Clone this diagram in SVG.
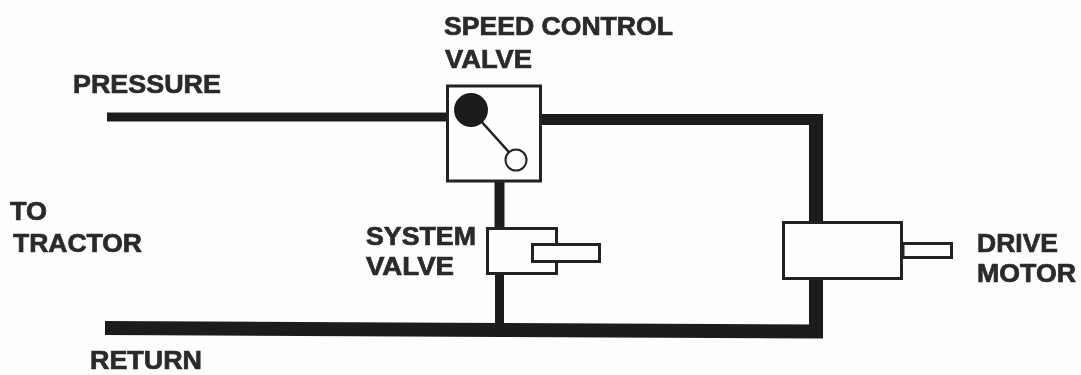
<svg xmlns="http://www.w3.org/2000/svg" width="1081" height="375" viewBox="0 0 1081 375">
<style>
.t{font-family:"Liberation Sans",Arial,sans-serif;font-weight:700;font-size:26px;fill:#2b2b2b;stroke:#2b2b2b;stroke-width:.7px}
.box{fill:#fefefd;stroke:#222;stroke-width:3}
.pipe{fill:none;stroke:#1e1e1e;stroke-linejoin:miter}
</style>
<defs><filter id="soft" x="-2%" y="-2%" width="104%" height="104%"><feGaussianBlur stdDeviation="0.7"/></filter></defs>
<rect width="1081" height="375" fill="#fdfdfc"/>
<g filter="url(#soft)">
<g id="connectors">
<path class="pipe" stroke-width="9" d="M107 117H448"/>
<path class="pipe" stroke-width="11" d="M540 119.500H823"/>
<path class="pipe" stroke-width="14" d="M816 114V225"/>
<path class="pipe" stroke-width="14" d="M105 328L500 330L816 331.500V278"/>
<path class="pipe" stroke-width="10" d="M499.500 180V230"/>
<path class="pipe" stroke-width="9" d="M499.500 273V326"/>
</g>
<g id="speed-control-valve">
<rect class="box" x="447.500" y="86" width="93" height="95"/>
<path d="M471 110L516 160" stroke="#222" stroke-width="2.500" fill="none"/>
<circle cx="471" cy="110" r="17" fill="#1c1c1c"/>
<circle cx="516" cy="160" r="10.500" fill="#fefefd" stroke="#222" stroke-width="2"/>
<text class="t" x="444" y="35" textLength="229" lengthAdjust="spacingAndGlyphs">SPEED CONTROL</text>
<text class="t" x="445" y="68" textLength="87" lengthAdjust="spacingAndGlyphs">VALVE</text>
</g>
<g id="system-valve">
<rect class="box" x="487.500" y="228.500" width="69" height="45"/>
<rect class="box" x="532.500" y="244.500" width="67" height="17"/>
<text class="t" x="366" y="245" textLength="110" lengthAdjust="spacingAndGlyphs">SYSTEM</text>
<text class="t" x="366" y="275" textLength="88" lengthAdjust="spacingAndGlyphs">VALVE</text>
</g>
<g id="drive-motor">
<rect class="box" x="783.500" y="222.500" width="118" height="56"/>
<rect class="box" x="903" y="243.500" width="48.500" height="14"/>
<text class="t" x="977" y="252" textLength="81" lengthAdjust="spacingAndGlyphs">DRIVE</text>
<text class="t" x="977" y="282" textLength="99" lengthAdjust="spacingAndGlyphs">MOTOR</text>
</g>
<g id="pressure"><text class="t" x="73" y="93" textLength="148" lengthAdjust="spacingAndGlyphs">PRESSURE</text></g>
<g id="to-tractor">
<text class="t" x="10" y="220" textLength="37" lengthAdjust="spacingAndGlyphs">TO</text>
<text class="t" x="13" y="252" textLength="129" lengthAdjust="spacingAndGlyphs">TRACTOR</text>
</g>
<g id="return"><text class="t" x="90" y="369" textLength="112" lengthAdjust="spacingAndGlyphs">RETURN</text></g>
</g>
</svg>
